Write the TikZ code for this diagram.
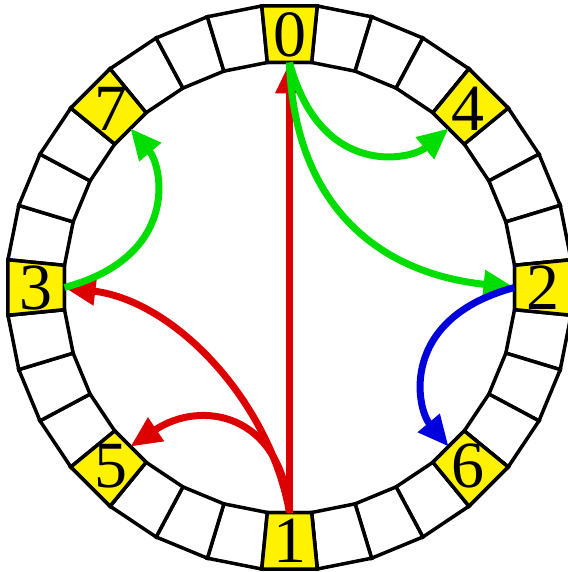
\documentclass[tikz,border=0pt]{standalone}
\usepackage{fontspec}
\setmainfont{Liberation Serif}
\usetikzlibrary{arrows.meta}
\definecolor{arcred}{RGB}{221,0,0}
\definecolor{arcgreen}{RGB}{0,221,0}
\definecolor{arcblue}{RGB}{0,0,221}

\begin{document}
\begin{tikzpicture}[x=1pt, y=1pt,
    slot/.style={draw=black, line width=3.5pt, fill=white},
    hit/.style={slot, fill=yellow},
    digit/.style={inner sep=0pt, font=\fontsize{66}{66}\selectfont},
    flow/.style={line width=7pt, draw=#1, -{Triangle[length=31pt, width=27pt]}}]
    \useasboundingbox (-289.5,-284.5) rectangle (277.5,287.5);
    % ring of 32 slots, clockwise from the top
    \foreach \k in {0,...,31} {
        \pgfmathsetmacro\lo{90-11.25*\k-5.625}
        \pgfmathsetmacro\hi{90-11.25*\k+5.625}
        \draw[slot] (\lo:226.1) -- (\lo:282.9) -- (\hi:282.9) -- (\hi:226.1) -- cycle;
    }
    % every fourth slot is marked, in bit-reversed order
    \foreach \k/\v in {0/0, 4/4, 8/2, 12/6, 16/1, 20/5, 24/3, 28/7} {
        \pgfmathsetmacro\a{90-11.25*\k}
        \pgfmathsetmacro\lo{\a-5.625}
        \pgfmathsetmacro\hi{\a+5.625}
        \draw[hit] (\lo:226.1) -- (\lo:282.9) -- (\hi:282.9) -- (\hi:226.1) -- cycle;
        \node[digit] (n\v) at (\a:253) {\v};
        \coordinate (p\v) at (\a:225);
    }
    % red
    \draw[flow=arcred] (p1) -- (p0);
    \draw[flow=arcred] (p1) .. controls +(100:112) and +(-7:112) .. (p3);
    \draw[flow=arcred] (p1) .. controls +(95:100) and +(34:85) .. (p5);
    % green
    \draw[flow=arcgreen] (p0) .. controls +(-75:120) and +(220:50) .. (p4);
    \draw[flow=arcgreen] (p0) .. controls +(-88:140) and +(174:140) .. (p2);
    \draw[flow=arcgreen] (p3) .. controls +(15:120) and +(310:50) .. (p7);
    % blue
    \draw[flow=arcblue] (p2) .. controls +(-165:120) and +(130:50) .. (p6);
\end{tikzpicture}
\end{document}
